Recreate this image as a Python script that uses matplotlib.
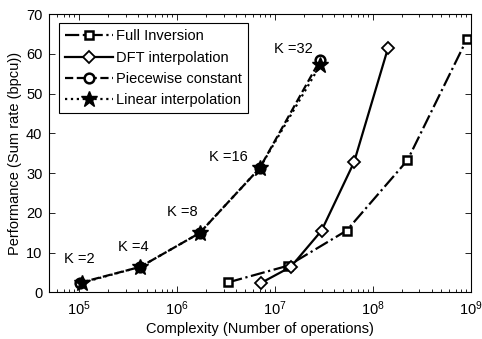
import matplotlib
matplotlib.use("Agg")
import matplotlib.pyplot as plt
from matplotlib.ticker import LogLocator, NullFormatter

plt.rcParams['font.family'] = ['Liberation Sans', 'DejaVu Sans']
plt.rcParams['mathtext.fontset'] = 'custom'
plt.rcParams['mathtext.rm'] = 'Liberation Sans'
plt.rcParams['mathtext.it'] = 'Liberation Sans:italic'
plt.rcParams['mathtext.default'] = 'regular'

# Data
full_x = [3.35e6, 1.37e7, 5.4e7, 2.26e8, 9.2e8]
full_y = [2.5, 6.7, 15.5, 33.2, 63.8]

dft_x = [7.3e6, 1.46e7, 3.0e7, 6.44e7, 1.43e8]
dft_y = [2.4, 6.4, 15.5, 32.7, 61.4]

pw_x = [1.03e5, 4.25e5, 1.71e6, 7.0e6, 2.9e7]
pw_y = [2.4, 6.4, 14.9, 31.2, 58.4]

lin_x = [1.08e5, 4.25e5, 1.71e6, 7.0e6, 2.9e7]
lin_y = [2.4, 6.4, 14.9, 31.2, 57.1]

k_labels = ['K =2', 'K =4', 'K =8', 'K =16', 'K =32']
k_label_x = [1.01e5, 3.63e5, 1.13e6, 3.38e6, 1.56e7]
k_label_y = [8.4, 11.5, 20.1, 34.1, 61.2]

FS = 10.5

fig = plt.figure(figsize=(4.82, 3.39), dpi=100)
ax = fig.add_axes([0.1023, 0.1378, 0.8743, 0.8209])

lw = 1.6
ax.plot(full_x, full_y, linestyle='-.', color='k', lw=lw, marker='s', ms=6,
        mfc='white', mec='k', mew=1.8, label='Full Inversion')
ax.plot(dft_x, dft_y, linestyle='-', color='k', lw=lw, marker='D', ms=6,
        mfc='white', mec='k', mew=1.3, label='DFT interpolation')
ax.plot(pw_x, pw_y, linestyle='--', color='k', lw=lw, marker='o', ms=7,
        mfc='white', mec='k', mew=1.8, label='Piecewise constant')
ax.plot(lin_x, lin_y, linestyle=':', color='k', lw=lw, marker='*', ms=12,
        mfc='k', mec='k', label='Linear interpolation')

for lab, lx, ly in zip(k_labels, k_label_x, k_label_y):
    ax.text(lx, ly, lab, fontsize=FS, ha='center', va='center')

ax.set_xscale('log')
ax.set_xlim(5e4, 1e9)
ax.set_ylim(0, 70)
ax.set_yticks(range(0, 71, 10))
ax.xaxis.set_major_locator(LogLocator(base=10, numticks=10))
ax.xaxis.set_minor_locator(LogLocator(base=10, subs=range(2, 10), numticks=20))
ax.xaxis.set_minor_formatter(NullFormatter())

ax.tick_params(which='both', direction='in', top=True, right=True, labelsize=FS)
ax.tick_params(which='major', length=4, width=0.6, pad=5)
ax.tick_params(which='minor', length=2, width=0.6)
for s in ax.spines.values():
    s.set_linewidth(0.8)

ax.set_xlabel('Complexity (Number of operations)', fontsize=FS, labelpad=3)
ax.set_ylabel('Performance (Sum rate (bpcu))', fontsize=FS, labelpad=3)

leg = ax.legend(loc='upper left', fontsize=FS, handlelength=3.3, fancybox=False,
                edgecolor='k', framealpha=1, borderaxespad=0.65,
                labelspacing=0.5, borderpad=0.4, handletextpad=0.25)
leg.get_frame().set_linewidth(0.8)

fig.savefig('out.png', dpi=100)
